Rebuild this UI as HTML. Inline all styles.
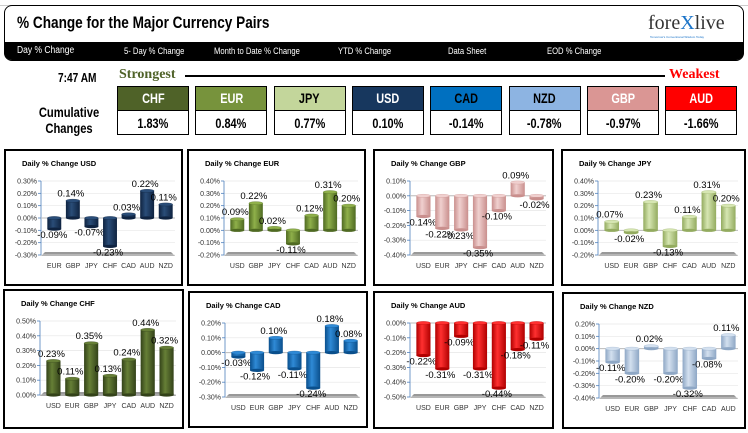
<!DOCTYPE html>
<html><head><meta charset="utf-8">
<style>
body{margin:0;width:748px;height:433px;background:#fff;overflow:hidden;position:relative;font-family:"Liberation Sans",sans-serif}
.abs{position:absolute}
.nar{font-family:"Liberation Sans",sans-serif;font-weight:bold}
.sq{display:inline-block;transform:scaleX(0.78);transform-origin:center}
.nav span{position:absolute;top:4px;color:#fff;font-size:9px;transform:scaleX(0.85);transform-origin:left}
.box{position:absolute;width:70px;height:47px;border:1px solid #000;top:86px}
.box .h{height:23px;border-bottom:1px solid #000;text-align:center;line-height:23px;font-size:14px;color:#fff}
.box .v{height:23px;text-align:center;line-height:24px;font-size:14px;color:#000;background:#fff}
</style></head><body>
<div class="abs" style="left:0;top:0;width:748px;height:5px;border-bottom:1px solid #ccc"></div>
<div class="abs" style="left:4px;top:5px;width:738px;height:54px;border:1px solid #000;border-radius:8px;background:#fff"></div>
<div class="abs nar" style="left:17px;top:13px;font-size:17px;transform:scaleX(0.8);transform-origin:left;white-space:nowrap">% Change for the Major Currency Pairs</div>
<div class="abs" style="left:648px;top:12px;font-family:'Liberation Serif',serif;font-size:20px;color:#333">fore<span style="color:#1a73c8">X</span>live</div>
<div class="abs" style="left:650px;top:35px;font-size:3px;color:#1a73c8">Tomorrow's Conventional Wisdom Today</div>
<div class="abs nav" style="left:4px;top:42px;width:740px;height:18px;background:#000;border-radius:0 0 8px 8px">
<span style="left:13px;font-size:10px;top:3px">Day % Change</span>
<span style="left:120px">5- Day % Change</span>
<span style="left:210px">Month to Date % Change</span>
<span style="left:334px">YTD % Change</span>
<span style="left:444px">Data Sheet</span>
<span style="left:543px">EOD % Change</span>
</div>
<div class="abs nar" style="left:58px;top:70px;font-size:13px;transform:scaleX(0.78);transform-origin:left;white-space:nowrap">7:47 AM</div>
<div class="abs nar" style="left:119px;top:67px;font-size:14px;color:#4f6228;font-family:'Liberation Serif',serif">Strongest</div>
<div class="abs" style="left:185px;top:75px;width:480px;height:2px;background:#000"></div>
<div class="abs nar" style="left:669px;top:67px;font-size:14px;color:#f00;font-family:'Liberation Serif',serif">Weakest</div>
<div class="abs nar" style="left:28px;top:104px;font-size:14px;text-align:center;line-height:16px;width:82px;transform:scaleX(0.8)">Cumulative Changes</div>
<div id="boxes"></div>
<div id="charts"></div>
<script>
const boxCur=["CHF","EUR","JPY","USD","CAD","NZD","GBP","AUD"];
const boxVals=["1.83%","0.84%","0.77%","0.10%","-0.14%","-0.78%","-0.97%","-1.66%"];
const boxBg=["#4f6228","#77933c","#c3d69b","#17375e","#0070c0","#8db4e2","#da9694","#ff0000"];
const boxFg=["#fff","#fff","#000","#fff","#000","#000","#fff","#fff"];
const bc=document.getElementById('boxes');
boxCur.forEach((c,i)=>{
 const d=document.createElement('div');d.className='box';d.style.left=(117+i*78.3)+'px';
 
 
 d.innerHTML='<div class="h nar" style="background:'+boxBg[i]+';color:'+boxFg[i]+'"><span class="sq">'+c+'</span></div><div class="v nar"><span class="sq">'+boxVals[i]+'</span></div>';
 bc.appendChild(d);
});

const usdCats=["EUR","GBP","JPY","CHF","CAD","AUD","NZD"];
const usdVals=[-0.09,0.14,-0.07,-0.23,0.03,0.22,0.11];
const eurCats=["USD","GBP","JPY","CHF","CAD","AUD","NZD"];
const eurVals=[0.09,0.22,0.02,-0.11,0.12,0.31,0.20];
const gbpCats=["USD","EUR","JPY","CHF","CAD","AUD","NZD"];
const gbpVals=[-0.14,-0.22,-0.23,-0.35,-0.10,0.09,-0.02];
const jpyCats=["USD","EUR","GBP","CHF","CAD","AUD","NZD"];
const jpyVals=[0.07,-0.02,0.23,-0.13,0.11,0.31,0.20];
const chfCats=["USD","EUR","GBP","JPY","CAD","AUD","NZD"];
const chfVals=[0.23,0.11,0.35,0.13,0.24,0.44,0.32];
const cadCats=["USD","EUR","GBP","JPY","CHF","AUD","NZD"];
const cadVals=[-0.03,-0.12,0.10,-0.11,-0.24,0.18,0.08];
const audCats=["USD","EUR","GBP","JPY","CHF","CAD","NZD"];
const audVals=[-0.22,-0.31,-0.09,-0.31,-0.44,-0.18,-0.11];
const nzdCats=["USD","EUR","GBP","JPY","CHF","CAD","AUD"];
const nzdVals=[-0.11,-0.20,0.02,-0.20,-0.32,-0.08,0.11];
const usdRange=[-0.3,0.3],eurRange=[-0.2,0.4],gbpRange=[-0.4,0.1],jpyRange=[-0.2,0.4],chfRange=[0,0.5],cadRange=[-0.3,0.2],audRange=[-0.5,0],nzdRange=[-0.4,0.2];

const NS='http://www.w3.org/2000/svg';
function mk(tag,attrs,parent){const e=document.createElementNS(NS,tag);for(const k in attrs)e.setAttribute(k,attrs[k]);parent.appendChild(e);return e;}
let gid=0;
function chart(name,px,py,pw,ph,cats,vals,range,color,dark){
 const svg=document.createElementNS(NS,'svg');
 
 
 svg.setAttribute('width',pw);svg.setAttribute('height',ph);
 svg.style.cssText='position:absolute;left:'+px+'px;top:'+py+'px';
 document.getElementById('charts').appendChild(svg);
 mk('rect',{x:1,y:1,width:pw-2,height:ph-2,fill:'#fff',stroke:'#000','stroke-width':2},svg);
 const id='g'+(gid++);
 const defs=mk('defs',{},svg);
 const lg=mk('linearGradient',{id:id,x1:0,x2:1,y1:0,y2:0},defs);
 mk('stop',{offset:'0',  'stop-color':dark},lg);
 mk('stop',{offset:'0.4','stop-color':color},lg);
 mk('stop',{offset:'1',  'stop-color':dark},lg);
 const t=mk('text',{x:18,y:17,'font-size':7.5,'font-weight':'bold','font-family':'Liberation Sans, sans-serif'},svg);
 t.textContent='Daily % Change '+name;
 
 
 const L=37,R=pw-8,T=32,B=106;
 const y=v=>B-(v-range[0])/(range[1]-range[0])*(B-T);
 mk('polygon',{points:(L)+','+(B+1)+' '+(R)+','+(B+1)+' '+(R-4)+','+(B-3)+' '+(L+4)+','+(B-3),fill:'#999'},svg);
 for(let v=range[0];v<=range[1]+1e-9;v+=0.1){
  const yy=y(v);
  mk('line',{x1:L,x2:R,y1:yy,y2:yy,stroke:'#e6e6e6','stroke-width':0.7},svg);
  mk('line',{x1:L-3,x2:L,y1:yy,y2:yy,stroke:'#4f81bd','stroke-width':0.8},svg);
  const tl=mk('text',{x:L-4,y:yy+2.5,'font-size':7,'text-anchor':'end',fill:'#333'},svg);
  tl.textContent=(Math.abs(v)<1e-9?'0.00':v.toFixed(2))+'%';
  
  
 }
 mk('line',{x1:L,x2:L,y1:T,y2:B,stroke:'#4f81bd','stroke-width':0.8},svg);
 const y0=y(0);
 mk('line',{x1:L,x2:R,y1:y0,y2:y0,stroke:'#bbb','stroke-width':1},svg);
 const step=(R-L-4)/cats.length,bw=step*0.75;
 cats.forEach((c,i)=>{
  const cx=L+4+step*(i+0.5);
  const v=vals[i],yv=y(v);
  const top=Math.min(yv,y0),h=Math.abs(yv-y0);
  const r=mk('rect',{x:cx-bw/2,y:top,width:bw,height:Math.max(h,1),fill:'url(#'+id+')'},svg);
  
  
  mk('ellipse',{cx:cx,cy:top,rx:bw/2,ry:1.6,fill:color,stroke:dark,'stroke-width':0.3},svg);
  mk('ellipse',{cx:cx,cy:top+Math.max(h,1),rx:bw/2,ry:1.6,fill:dark},svg);
  const lab=mk('text',{x:cx-2,y:v>=0?yv-4:yv+9,'font-size':9.5,'text-anchor':'middle',fill:'#000'},svg);
  lab.textContent=v.toFixed(2)+'%';
  
  
  const cl=mk('text',{x:cx,y:B+13,'font-size':7,'text-anchor':'middle',fill:'#333'},svg);
  cl.textContent=c;
  
  
 });
}
chart('USD',4,149,179,137,usdCats,usdVals,usdRange,'#2a4d78','#0f2340');
chart('EUR',187,149,179,137,eurCats,eurVals,eurRange,'#8fb04a','#4f6a22');
chart('GBP',373,149,181,137,gbpCats,gbpVals,gbpRange,'#f0d0cf','#c98f8d');
chart('JPY',561,149,185,137,jpyCats,jpyVals,jpyRange,'#d6e6b2','#93ab5f');
chart('CHF',3,289,181,140,chfCats,chfVals,chfRange,'#667f36','#334219');
chart('CAD',188,291,180,137,cadCats,cadVals,cadRange,'#2f8ad6','#0a4f8c');
chart('AUD',373,291,181,138,audCats,audVals,audRange,'#ff3030','#b00000');
chart('NZD',562,292,184,137,nzdCats,nzdVals,nzdRange,'#d3e0ef','#8ea7c5');
</script>
</body></html>
